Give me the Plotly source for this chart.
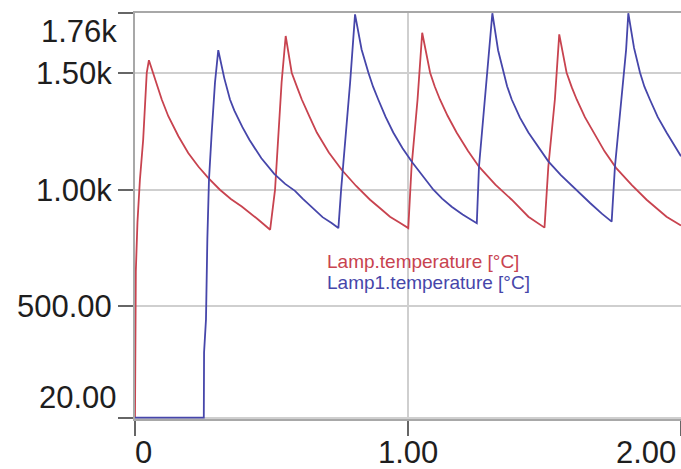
import plotly.graph_objects as go

# Time axis values and temperatures
lamp_t = [0.0, 0.001, 0.003, 0.009, 0.018, 0.030, 0.043, 0.051,
          0.073, 0.098, 0.122, 0.159, 0.195, 0.232, 0.269, 0.311, 0.351, 0.391, 0.452, 0.495,
          0.513, 0.525, 0.537, 0.552,
          0.574, 0.595, 0.611, 0.640, 0.666, 0.710, 0.757, 0.810, 0.861, 0.900, 0.934, 0.970, 1.001,
          1.013, 1.035, 1.052,
          1.081, 1.098, 1.117, 1.145, 1.178, 1.220, 1.260, 1.320, 1.380, 1.441, 1.470, 1.500,
          1.514, 1.538, 1.554,
          1.581, 1.600, 1.618, 1.648, 1.679, 1.720, 1.762, 1.820, 1.874, 1.910, 1.947, 2.000]
lamp_v = [20, 350, 650, 860, 1043, 1216, 1503, 1557,
          1474, 1388, 1316, 1230, 1158, 1100, 1050, 1000, 960, 928, 871, 828,
          1000, 1246, 1461, 1661,
          1503, 1437, 1388, 1312, 1246, 1160, 1086, 1016, 957, 918, 884, 858, 835,
          1099, 1388, 1675,
          1503, 1444, 1388, 1318, 1246, 1167, 1099, 1022, 957, 884, 860, 837,
          1099, 1388, 1668,
          1503, 1440, 1388, 1312, 1246, 1165, 1094, 1020, 957, 920, 884, 846]

lamp1_t = [0.0, 0.252, 0.253, 0.260, 0.265, 0.271, 0.281, 0.293, 0.305,
           0.327, 0.348, 0.364, 0.393, 0.419, 0.463, 0.510, 0.550, 0.586, 0.614, 0.653, 0.687, 0.720, 0.745,
           0.755, 0.773, 0.788, 0.806,
           0.830, 0.855, 0.872, 0.891, 0.918, 0.946, 0.980, 1.016, 1.055, 1.093, 1.125, 1.160, 1.200, 1.252,
           1.260, 1.282, 1.297, 1.309,
           1.330, 1.349, 1.363, 1.380, 1.410, 1.441, 1.484, 1.514, 1.560, 1.606, 1.667, 1.710, 1.746,
           1.758, 1.783, 1.799, 1.807,
           1.828, 1.850, 1.866, 1.886, 1.915, 1.947, 1.975, 2.000]
lamp1_v = [20, 20, 300, 442, 787, 1043, 1246, 1461, 1600,
           1480, 1388, 1340, 1270, 1215, 1135, 1068, 1025, 995, 962, 918, 882, 857, 835,
           1000, 1246, 1461, 1754,
           1603, 1503, 1443, 1388, 1313, 1246, 1178, 1117, 1055, 1000, 962, 927, 893, 856,
           1099, 1388, 1603, 1759,
           1600, 1503, 1445, 1388, 1310, 1246, 1172, 1122, 1063, 1010, 943, 897, 863,
           1099, 1388, 1603, 1759,
           1610, 1503, 1443, 1388, 1312, 1246, 1192, 1144]

series_names = ["Lamp.temperature [°C]", "Lamp1.temperature [°C]"]
series_colors = ["#c8434f", "#4646aa"]

y_tickvals = [20, 500, 1000, 1500, 1760]
y_ticktext = ["", "500.00", "1.00k", "1.50k", ""]
x_tickvals = [0, 1, 2]
x_ticktext = ["0", "1.00", "2.00"]

FONT = "Liberation Sans, Arial, sans-serif"
TXT = "#1e1e1e"
fig = go.Figure()
fig.add_trace(go.Scatter(x=lamp_t, y=lamp_v, mode="lines", name=series_names[0],
                         line=dict(color=series_colors[0], width=1.8)))
fig.add_trace(go.Scatter(x=lamp1_t, y=lamp1_v, mode="lines", name=series_names[1],
                         line=dict(color=series_colors[1], width=1.8)))

fig.update_layout(
    width=681, height=469,
    margin=dict(l=135, r=0, t=13, b=50, autoexpand=False),
    paper_bgcolor="white", plot_bgcolor="white",
    showlegend=False,
    font=dict(family=FONT, size=31, color=TXT),
)
fig.update_xaxes(
    range=[0, 2], tickvals=x_tickvals, showticklabels=False,
    ticks="outside", ticklen=15, tickwidth=2, tickcolor="#666666",
    showgrid=True, gridcolor="#cfcfcf", gridwidth=2,
    showline=True, linecolor="#a8a8a8", linewidth=2, mirror=True,
    zeroline=False, layer="below traces",
)
fig.update_yaxes(
    range=[14, 1760], tickvals=y_tickvals, ticktext=y_ticktext,
    ticks="outside", ticklen=15, tickwidth=2, tickcolor="#666666",
    showgrid=True, gridcolor="#cfcfcf", gridwidth=2,
    showline=True, linecolor="#a8a8a8", linewidth=2,
    zeroline=False, layer="below traces",
    tickfont=dict(family=FONT, size=31, color=TXT),
)

# edge y tick labels (shifted inward as in the reference)
fig.add_annotation(text="1.76k", xref="paper", x=0, xanchor="right", xshift=-16,
                   yref="y", y=1760, yanchor="middle", yshift=-18, showarrow=False,
                   font=dict(family=FONT, size=31, color=TXT))
fig.add_annotation(text="20.00", xref="paper", x=0, xanchor="right", xshift=-16,
                   yref="y", y=20, yanchor="middle", yshift=20, showarrow=False,
                   font=dict(family=FONT, size=31, color=TXT))
# x tick labels
x_shifts = [8, 0, -35]
for xv, xt, xs in zip(x_tickvals, x_ticktext, x_shifts):
    fig.add_annotation(text=xt, xref="x", x=xv, xanchor="center", xshift=xs,
                       yref="paper", y=0, yanchor="middle", yshift=-33, showarrow=False,
                       font=dict(family=FONT, size=31, color=TXT))

# series labels (legend as coloured text)
for i, (nm, col) in enumerate(zip(series_names, series_colors)):
    fig.add_annotation(text=nm, xref="paper", x=0.348, xanchor="left",
                       yref="paper", y=[0.387, 0.336][i], yanchor="middle", showarrow=False,
                       font=dict(family=FONT, size=19, color=col))

fig.write_html("out.html", config={"displayModeBar": False},
               post_script="document.body.style.margin='0px';document.body.style.overflow='hidden';")
